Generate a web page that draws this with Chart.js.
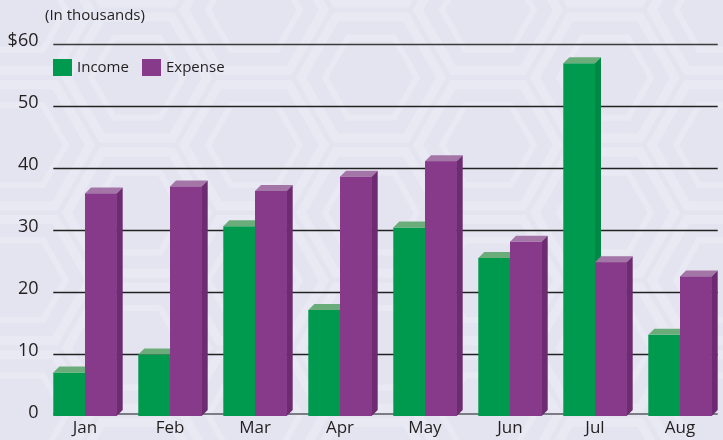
<!DOCTYPE html>
<html>
<head>
<meta charset="utf-8">
<script src="https://cdn.jsdelivr.net/npm/chart.js@4/dist/chart.umd.min.js"></script>
<style>
  html, body { margin: 0; padding: 0; background: #e5e5f1; }
  #wrap { width: 723px; height: 440px; position: relative; }
</style>
</head>
<body>
<div id="wrap"><canvas id="barChart"></canvas></div>
<script>
const ctx_bar = document.querySelector('#barChart').getContext('2d');

// data (in thousands of dollars)
const months = ['Jan', 'Feb', 'Mar', 'Apr', 'May', 'Jun', 'Jul', 'Aug'];
const income = [7, 9.9, 30.6, 17.1, 30.4, 25.5, 56.9, 13.1];
const expense = [35.9, 37, 36.3, 38.6, 41.1, 28.1, 24.8, 22.5];
const yTicks = [0, 10, 20, 30, 40, 50, 60];

// front / top / side colours for the fake 3d bars
const faces = [
    {front: '#009a4e', top: '#6aad7b', side: '#008945'},
    {front: '#87398a', top: '#a476a7', side: '#6d2b71'},
];
const depth = 6;
const textColor = '#231f20';

// background with a faint hexagon pattern
const bgPlugin = {
    id: 'bg',
    beforeDraw(chart) {
        const c = chart.ctx;
        c.save();
        c.fillStyle = '#e4e4f0';
        c.fillRect(0, 0, chart.width, chart.height);
        c.strokeStyle = '#e9e9f4';
        const R = 78;
        const w = R * 1.5, h = R * Math.sqrt(3);
        for (let col = -1; col < chart.width / w + 2; col++) {
            for (let row = -1; row < chart.height / h + 2; row++) {
                const cx = col * w + 20;
                const cy = row * h + (col % 2 ? h / 2 : 0) + 10;
                [R - 8, R - 32].forEach((r, k) => {
                    c.lineWidth = k ? 6 : 9;
                    c.beginPath();
                    for (let i = 0; i < 6; i++) {
                        const a = Math.PI / 3 * i;
                        const px = cx + r * Math.cos(a), py = cy + r * Math.sin(a);
                        if (i === 0) c.moveTo(px, py); else c.lineTo(px, py);
                    }
                    c.closePath();
                    c.stroke();
                });
            }
        }
        c.restore();
    }
};

// grid lines, floor line, legend and unit note
const decorPlugin = {
    id: 'decor',
    beforeDatasetsDraw(chart) {
        const c = chart.ctx;
        const y = chart.scales.y;
        const m0 = chart.getDatasetMeta(0).data;
        const m1 = chart.getDatasetMeta(1).data;
        const left = m0[0].x - m0[0].width / 2;
        const right = m1[m1.length - 1].x + m1[m1.length - 1].width / 2 + depth;
        c.save();
        yTicks.forEach(v => {
            if (v === 0) return;
            const py = Math.round(y.getPixelForValue(v)) + 0.5;
            c.strokeStyle = v === 60 ? '#3a3a3a' : '#222222';
            c.lineWidth = v === 60 ? 1.6 : 1.3;
            c.beginPath();
            c.moveTo(left, py);
            c.lineTo(right, py);
            c.stroke();
        });
        const p0 = y.getPixelForValue(0);
        c.strokeStyle = '#7c7c84';
        c.lineWidth = 2;
        c.beginPath();
        c.moveTo(left, p0 - 2);
        c.lineTo(right, p0 - 2);
        c.stroke();
        c.restore();
    },
    afterDraw(chart) {
        const c = chart.ctx;
        c.save();
        c.fillStyle = textColor;
        c.font = '15px "Open Sans"';
        c.textBaseline = 'middle';
        c.fillText('(In thousands)', 45, 16);
        // legend
        const items = [{x: 53}, {x: 142}];
        chart.data.datasets.forEach((ds, i) => {
            c.fillStyle = ds.backgroundColor;
            c.fillRect(items[i].x, 59, 19, 17);
            c.fillStyle = textColor;
            c.fillText(ds.label, items[i].x + 24, 68);
        });
        c.restore();
    }
};

// top and side faces for each bar, income first then expense over it
const bars3dPlugin = {
    id: 'bars3d',
    afterDatasetsDraw(chart) {
        const c = chart.ctx;
        c.save();
        for (let d = 0; d < chart.data.datasets.length; d++) {
            const meta = chart.getDatasetMeta(d);
            const f = faces[d];
            meta.data.forEach(bar => {
                const l = bar.x - bar.width / 2;
                const r = bar.x + bar.width / 2;
                const top = bar.y, base = bar.base;
                if (d > 0) {
                    c.fillStyle = f.front;
                    c.fillRect(l, top, r - l, base - top);
                }
                c.fillStyle = f.top;
                c.beginPath();
                c.moveTo(l, top);
                c.lineTo(l + depth, top - depth);
                c.lineTo(r + depth, top - depth);
                c.lineTo(r, top);
                c.closePath();
                c.fill();
                c.fillStyle = f.side;
                c.beginPath();
                c.moveTo(r, top);
                c.lineTo(r + depth, top - depth);
                c.lineTo(r + depth, base - depth);
                c.lineTo(r, base);
                c.closePath();
                c.fill();
            });
        }
        c.restore();
    }
};

const config_bar = {
    type: 'bar',
    data: {
        labels: months,
        datasets: [
            {label: 'Income', data: income, backgroundColor: faces[0].front, borderWidth: 0},
            {label: 'Expense', data: expense, backgroundColor: faces[1].front, borderWidth: 0},
        ],
    },
    options: {
        responsive: true,
        maintainAspectRatio: false,
        animation: false,
        layout: {padding: {top: 44, right: 0.5, left: 0, bottom: 0}},
        datasets: {bar: {categoryPercentage: 0.746, barPercentage: 1}},
        plugins: {
            legend: {display: false},
            tooltip: {enabled: false},
        },
        scales: {
            x: {
                grid: {display: false, drawTicks: false},
                border: {display: false},
                ticks: {color: textColor, font: {family: 'Open Sans', size: 17}, padding: 2},
                afterFit(s) { s.height = 24; },
            },
            y: {
                min: 0,
                max: 60,
                grid: {display: false, drawTicks: false},
                border: {display: false},
                afterBuildTicks(s) { s.ticks = yTicks.map(v => ({value: v})); },
                ticks: {
                    color: textColor,
                    font: {family: 'Open Sans', size: 18},
                    padding: 4,
                    labelOffset: -3.5,
                    callback: v => v === 60 ? '$60' : String(v),
                },
                afterFit(s) { s.width = 42.5; },
            },
        },
    },
    plugins: [bgPlugin, decorPlugin, bars3dPlugin],
};

new Chart(ctx_bar, config_bar);
</script>
</body>
</html>
